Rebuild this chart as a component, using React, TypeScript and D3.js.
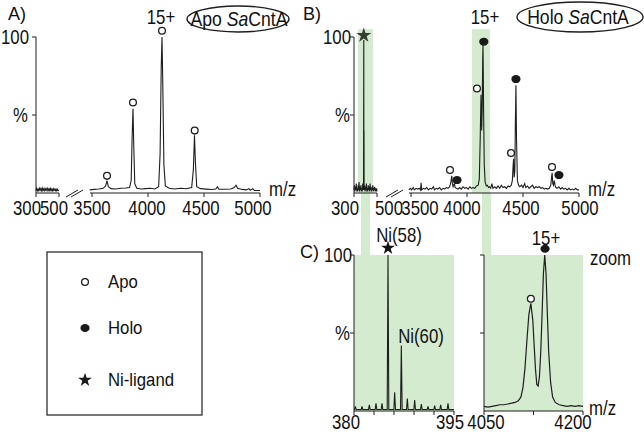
import React from 'react';
import * as d3 from 'd3';

const FONT = "'Liberation Sans', Arial, Helvetica, sans-serif";
const GREEN = '#d5ebcf';
const INK = '#1e1e1e';

// ---------- data (m/z, relative intensity %) ----------
const apoLow: [number, number][] = [
  [300, 1.5], [306, 3], [312, 1.5], [318, 2.5], [324, 1.5], [330, 3], [336, 1.8], [342, 2.8], [348, 1.5], [354, 3.2],
  [360, 1.6], [366, 2.6], [372, 1.5], [378, 3], [384, 1.8], [390, 2.7], [396, 1.5], [402, 3], [408, 1.7], [414, 2.6],
  [420, 1.5], [426, 2.9], [432, 1.6], [438, 2.5], [444, 1.5], [450, 2.8], [456, 1.6], [462, 2.4], [468, 1.5], [474, 2.6],
  [480, 1.5], [486, 2.4], [492, 1.5], [500, 1.8],
];
const apoHigh: [number, number][] = [
  [3480, 2], [3520, 2.3], [3560, 2.6], [3600, 3], [3622, 4.5], [3634, 8], [3646, 4], [3670, 2.8], [3710, 2.6], [3760, 3],
  [3800, 3.2], [3835, 3.5], [3850, 8], [3858, 35], [3866, 54], [3873, 30], [3882, 6], [3900, 3], [3940, 2.6], [3980, 2.8],
  [4020, 3], [4060, 2.6], [4095, 4], [4108, 25], [4118, 80], [4125, 100], [4132, 70], [4142, 18], [4155, 4.5], [4190, 3],
  [4240, 2.6], [4290, 3], [4340, 2.7], [4390, 3.5], [4405, 15], [4415, 37], [4423, 20], [4435, 4], [4470, 2.8], [4520, 2.5],
  [4570, 2.2], [4605, 2.5], [4620, 4], [4632, 2.4], [4680, 2.4], [4740, 2.6], [4770, 3.5], [4786, 5], [4800, 3], [4840, 2.3],
  [4880, 2], [4900, 2.8], [4915, 1.8], [4935, 2.8], [4950, 1.6], [5000, 1.6],
];
const holoLow: [number, number][] = [
  [300, 2], [304, 5], [308, 1], [312, 4], [316, 2], [320, 6], [324, 1], [328, 3], [332, 1], [336, 5], [340, 2], [344, 7],
  [348, 1], [352, 4], [356, 2], [360, 5], [364, 1], [368, 3], [372, 1], [376, 6], [380, 2], [383, 4], [385, 98], [386, 2],
  [387, 40], [388, 2], [392, 5], [396, 1], [400, 4], [404, 2], [408, 6], [412, 1], [416, 3], [420, 1], [424, 5], [428, 2],
  [432, 4], [436, 1], [440, 6], [444, 2], [448, 3], [452, 1], [456, 4], [460, 2], [464, 5], [468, 1], [472, 3], [476, 2],
  [480, 4], [484, 1], [488, 3], [492, 1], [496, 3], [500, 1],
];
const holoHigh: [number, number][] = [
  [3480, 2], [3495, 3], [3505, 2], [3520, 3.5], [3530, 2], [3545, 3], [3560, 2.5], [3575, 3], [3585, 2], [3590, 6.5],
  [3595, 2], [3610, 3], [3625, 2.5], [3640, 3.5], [3655, 2], [3670, 3], [3685, 2.5], [3700, 4], [3710, 2], [3725, 3],
  [3740, 2.5], [3755, 3.5], [3770, 2], [3785, 3], [3800, 2.5], [3815, 3.5], [3830, 3], [3845, 4], [3856, 7], [3864, 11],
  [3870, 6], [3876, 4], [3883, 5.5], [3888, 6], [3894, 3.5], [3905, 3], [3920, 2.5], [3935, 3.5], [3950, 2.5], [3965, 4],
  [3980, 3], [3995, 3.5], [4010, 2.5], [4025, 4], [4040, 3], [4055, 3.5], [4070, 3], [4085, 4.5], [4100, 5], [4110, 9],
  [4118, 35], [4125, 63], [4131, 40], [4136, 55], [4140, 85], [4143, 95], [4148, 55], [4154, 18], [4162, 7], [4172, 4.5],
  [4182, 5], [4192, 3.5], [4202, 4], [4212, 3], [4222, 6], [4232, 3], [4247, 4], [4262, 3], [4277, 4.5], [4292, 3],
  [4307, 5], [4322, 3.5], [4337, 4], [4352, 3], [4367, 4.5], [4382, 4], [4395, 5], [4405, 8], [4412, 18], [4416, 22],
  [4421, 10], [4427, 14], [4432, 45], [4437, 69], [4442, 35], [4450, 8], [4460, 5], [4472, 4], [4487, 5], [4500, 3.5],
  [4515, 6], [4525, 3.5], [4540, 4.5], [4555, 3], [4570, 4], [4585, 5], [4600, 3], [4615, 4], [4630, 3.5], [4645, 4],
  [4660, 3], [4675, 3.5], [4690, 2.5], [4705, 3], [4720, 2.5], [4735, 3], [4748, 5], [4755, 10], [4760, 13], [4766, 6],
  [4772, 5], [4779, 8], [4786, 5], [4793, 3.5], [4805, 3], [4820, 4], [4835, 2.5], [4850, 3.5], [4865, 2.5], [4880, 3],
  [4895, 2], [4910, 3], [4925, 2], [4940, 2.5], [4955, 2], [4970, 3], [4985, 2], [5000, 2],
];
const niPeaks: [number, number][] = [
  [380.2, 3], [381.2, 3], [382.3, 4], [383.3, 5], [384.2, 5], [385.1, 100], [386.1, 12], [387.1, 42], [388.0, 8],
  [389.1, 7], [390.1, 4.5], [391.1, 3], [392.1, 3.5], [393.0, 4], [394.1, 5],
];
const zoomCurve: [number, number][] = [
  [4050, 3], [4056, 2.5], [4062, 3], [4068, 3.5], [4074, 4], [4080, 4], [4086, 4.5], [4092, 5], [4097, 5.5], [4102, 6.5],
  [4106, 9], [4109, 15], [4112, 27], [4115, 45], [4118, 62], [4121, 69], [4124, 58], [4126, 42], [4128, 27], [4130, 17],
  [4132, 16], [4134, 22], [4136, 38], [4138, 62], [4140, 88], [4142, 100], [4144, 88], [4146, 62], [4148, 38], [4151, 18],
  [4154, 9], [4158, 5.5], [4164, 4], [4170, 3.5], [4176, 3], [4182, 3.5], [4188, 3], [4194, 3.5], [4200, 3],
];

// annotation markers: [m/z, % position of marker centre]
const markersA = [
  { kind: 'apo', mz: 3634, pct: 11 },
  { kind: 'apo', mz: 3866, pct: 58 },
  { kind: 'apo', mz: 4125, pct: 104 },
  { kind: 'apo', mz: 4417, pct: 40 },
];
const markersB = [
  { kind: 'apo', mz: 3848, pct: 14.7 },
  { kind: 'holo', mz: 3911, pct: 8.3 },
  { kind: 'apo', mz: 4089, pct: 67 },
  { kind: 'holo', mz: 4150, pct: 97 },
  { kind: 'apo', mz: 4393, pct: 25.6 },
  { kind: 'holo', mz: 4437, pct: 73 },
  { kind: 'apo', mz: 4759, pct: 16.7 },
  { kind: 'holo', mz: 4821, pct: 11.5 },
];
const markersC = [
  { kind: 'apo', mz: 4121, pct: 72 },
  { kind: 'holo', mz: 4142.5, pct: 104 },
];

const lowTicks = [300, 500];
const highTicks = [3500, 4000, 4500, 5000];
const niTicks = [380, 383, 386, 389, 392, 395];
const niLabels = [380, 395];
const zoomTicks = [4050, 4125, 4200];
const zoomLabels = [4050, 4200];
const yTicks = [100, 50];
const bandLowB: [number, number] = [335, 465];
const bandHighB: [number, number] = [4045, 4205];
const connLow: [number, number] = [361, 370];
const connHigh: [number, number] = [482, 491];

const legendItems = [
  { kind: 'apo', label: 'Apo' },
  { kind: 'holo', label: 'Holo' },
  { kind: 'star', label: 'Ni-ligand' },
];

// hand-placed label nudges (px) as in the original figure
const nudgeA: Record<number, number> = { 300: -9, 500: -5, 3500: 0, 4000: -1, 4500: -3, 5000: -7 };
const nudgeB: Record<number, number> = { 300: -9, 500: 12, 3500: 9, 4000: -5, 4500: -2, 5000: 1 };
const nudgeNi: Record<number, number> = { 380: -8, 395: -4 };
const nudgeZ: Record<number, number> = { 4050: 2, 4200: -10 };

// ---------- helpers ----------
const starPath = (size: number) => d3.symbol().type(d3.symbolStar).size(size)()!;

function T({ x, y, children, size = 20, sx = 0.84, anchor = 'start', mid = false }: any) {
  return (
    <text transform={`translate(${x},${y}) scale(${sx},1)`} fontSize={size} textAnchor={anchor}
      dy={mid ? '0.36em' : undefined}>
      {children}
    </text>
  );
}

function Marker({ kind, x, y, fill }: { kind: string; x: number; y: number; fill?: string }) {
  if (kind === 'apo') return <circle cx={x} cy={y} r={3.4} fill="white" stroke={INK} strokeWidth={1.3} />;
  if (kind === 'holo') return <ellipse cx={x} cy={y} rx={4.6} ry={4} fill={fill || '#1a1a1a'} />;
  return <path d={starPath(60)} transform={`translate(${x},${y})`} fill={fill || '#1a1a1a'} />;
}

type Seg = { x0: number; x1: number; d0: number; d1: number };

function BrokenPanel({
  y0, y1, low, high, lowData, highData, markers, breakX, yLabelEnd, nudge,
}: {
  y0: number; y1: number; low: Seg; high: Seg; lowData: [number, number][]; highData: [number, number][];
  markers: { kind: string; mz: number; pct: number }[]; breakX: number; yLabelEnd: number; nudge: Record<number, number>;
}) {
  const sy = d3.scaleLinear().domain([0, 100]).range([y0, y1]);
  const sl = d3.scaleLinear().domain([low.d0, low.d1]).range([low.x0, low.x1]);
  const sh = d3.scaleLinear().domain([high.d0, high.d1]).range([high.x0, high.x1]);
  const lineL = d3.line<[number, number]>().x((d) => sl(d[0])).y((d) => sy(d[1]));
  const lineH = d3.line<[number, number]>().x((d) => sh(d[0])).y((d) => sy(d[1]));
  return (
    <g>
      <line x1={low.x0} x2={low.x0} y1={y1} y2={y0} stroke={INK} strokeWidth={1} />
      {yTicks.map((t) => (
        <line key={t} x1={low.x0 - 4} x2={low.x0} y1={sy(t)} y2={sy(t)} stroke={INK} />
      ))}
      <T x={yLabelEnd} y={sy(100)} anchor="end" mid>100</T>
      <T x={yLabelEnd - 1} y={sy(50)} anchor="end" mid>%</T>
      <line x1={low.x0} x2={low.x1} y1={y0} y2={y0} stroke={INK} />
      <line x1={high.x0 - 2} x2={high.x1} y1={y0} y2={y0} stroke={INK} />
      {lowTicks.map((t) => (
        <line key={t} x1={sl(t)} x2={sl(t)} y1={y0} y2={y0 + 4} stroke={INK} />
      ))}
      {highTicks.map((t) => (
        <line key={t} x1={sh(t)} x2={sh(t)} y1={y0} y2={y0 + 4} stroke={INK} />
      ))}
      {lowTicks.map((t) => (
        <T key={t} x={sl(t) + (nudge[t] || 0)} y={y0 + 22} anchor="middle">{t}</T>
      ))}
      {highTicks.map((t) => (
        <T key={t} x={sh(t) + (nudge[t] || 0)} y={y0 + 22} anchor="middle">{t}</T>
      ))}
      <line x1={breakX} y1={y0 + 4} x2={breakX + 12} y2={y0 - 3} stroke={INK} strokeWidth={1} />
      <line x1={breakX + 5} y1={y0 + 4} x2={breakX + 17} y2={y0 - 3} stroke={INK} strokeWidth={1} />
      <path d={lineL(lowData)!} fill="none" stroke={INK} strokeWidth={1.1} />
      <path d={lineH(highData)!} fill="none" stroke={INK} strokeWidth={1.1} />
      <T x={high.x1 + 9} y={y0 + 3}>m/z</T>
      {markers.map((m, i) => (
        <Marker key={i} kind={m.kind} x={m.mz < 1000 ? sl(m.mz) : sh(m.mz)} y={sy(m.pct)} />
      ))}
    </g>
  );
}

export default function App() {
  const yA0 = 193, yA1 = 37;
  const lowA: Seg = { x0: 36, x1: 59, d0: 300, d1: 500 };
  const highA: Seg = { x0: 92, x1: 260, d0: 3500, d1: 5000 };
  const lowB: Seg = { x0: 354, x1: 377, d0: 300, d1: 500 };
  const highB: Seg = { x0: 411, x1: 579, d0: 3500, d1: 5000 };
  const slB = d3.scaleLinear().domain([lowB.d0, lowB.d1]).range([lowB.x0, lowB.x1]);
  const shB = d3.scaleLinear().domain([highB.d0, highB.d1]).range([highB.x0, highB.x1]);
  const syB = d3.scaleLinear().domain([0, 100]).range([yA0, yA1]);

  // Panel C
  const yC0 = 411, yC1 = 255;
  const syC = d3.scaleLinear().domain([0, 100]).range([yC0, yC1]);
  const sxNi = d3.scaleLinear().domain([380, 395]).range([354, 454]);
  const sxZ = d3.scaleLinear().domain([4050, 4200]).range([484, 583]);
  const niPts: [number, number][] = [[380, 1]];
  niPeaks.forEach(([m, h]) => {
    niPts.push([m - 0.12, 1], [m, h], [m + 0.12, 1]);
  });
  niPts.push([395, 1]);
  const lineNi = d3.line<[number, number]>().x((d) => sxNi(d[0])).y((d) => syC(d[1]));
  const lineZ = d3.line<[number, number]>().x((d) => sxZ(d[0])).y((d) => syC(d[1]));
  const bandTop = syB(105);

  return (
    <svg width={644} height={432} style={{ position: 'absolute', left: 0, top: 0, background: 'white' }}
      fontFamily={FONT} fill="#111">
      {/* green highlight bands */}
      <rect x={slB(bandLowB[0])} y={bandTop} width={slB(bandLowB[1]) - slB(bandLowB[0])} height={yA0 - bandTop} fill={GREEN} />
      <rect x={shB(bandHighB[0])} y={bandTop} width={shB(bandHighB[1]) - shB(bandHighB[0])} height={yA0 - bandTop} fill={GREEN} />
      <rect x={connLow[0]} y={yA0} width={connLow[1] - connLow[0]} height={yC1 - yA0} fill={GREEN} />
      <rect x={connHigh[0]} y={yA0} width={connHigh[1] - connHigh[0]} height={yC1 - yA0} fill={GREEN} />
      <rect x={sxNi(380)} y={yC1} width={sxNi(395) - sxNi(380)} height={yC0 - yC1} fill={GREEN} />
      <rect x={sxZ(4050)} y={yC1} width={sxZ(4200) - sxZ(4050)} height={yC0 - yC1} fill={GREEN} />

      {/* Panel titles */}
      <T x={8} y={20} size={19} sx={0.95}>A)</T>
      <T x={303} y={20} size={19} sx={0.95}>B)</T>
      <T x={300} y={258} size={19} sx={0.95}>C)</T>

      {/* Panel A */}
      <BrokenPanel y0={yA0} y1={yA1} low={lowA} high={highA} lowData={apoLow} highData={apoHigh}
        markers={markersA} breakX={66} yLabelEnd={29} nudge={nudgeA} />
      <T x={161} y={24} anchor="middle">15+</T>
      <ellipse cx={238} cy={19} rx={51} ry={13} fill="none" stroke={INK} strokeWidth={1.4} />
      <T x={239} y={26} anchor="middle" sx={0.88}>Apo <tspan fontStyle="italic">Sa</tspan>CntA</T>

      {/* Panel B */}
      <BrokenPanel y0={yA0} y1={yA1} low={lowB} high={highB} lowData={holoLow} highData={holoHigh}
        markers={markersB} breakX={386} yLabelEnd={351} nudge={nudgeB} />
      <path d={starPath(70)} transform={`translate(${slB(385)},${syB(101)})`} fill="#333d33" />
      <T x={485} y={24} anchor="middle">15+</T>
      <ellipse cx={580} cy={17} rx={63} ry={15} fill="none" stroke={INK} strokeWidth={1.4} />
      <T x={578} y={24} anchor="middle" sx={0.88}>Holo <tspan fontStyle="italic">Sa</tspan>CntA</T>

      {/* Panel C left */}
      <line x1={354} x2={354} y1={yC1} y2={yC0} stroke={INK} />
      {yTicks.map((t) => (
        <line key={t} x1={350} x2={354} y1={syC(t)} y2={syC(t)} stroke={INK} />
      ))}
      <T x={352} y={syC(100)} anchor="end" mid>100</T>
      <T x={350} y={syC(50)} anchor="end" mid>%</T>
      <line x1={354} x2={454} y1={yC0} y2={yC0} stroke={INK} />
      {niTicks.map((t) => (
        <line key={t} x1={sxNi(t)} x2={sxNi(t)} y1={yC0} y2={yC0 + 4} stroke={INK} />
      ))}
      {niLabels.map((t) => (
        <T key={t} x={sxNi(t) + (nudgeNi[t] || 0)} y={yC0 + 18} anchor="middle">{t}</T>
      ))}
      <path d={lineNi(niPts)!} fill="none" stroke={INK} strokeWidth={1.1} />
      <path d={starPath(60)} transform={`translate(${sxNi(385.1)},${syC(104.5)})`} fill="#111" />
      <T x={399} y={242} anchor="middle">Ni(58)</T>
      <T x={421} y={343} anchor="middle">Ni(60)</T>

      {/* Panel C right */}
      <line x1={484} x2={484} y1={yC1} y2={yC0} stroke={INK} />
      {yTicks.map((t) => (
        <line key={t} x1={480} x2={484} y1={syC(t)} y2={syC(t)} stroke={INK} />
      ))}
      <line x1={484} x2={583} y1={yC0} y2={yC0} stroke={INK} />
      {zoomTicks.map((t) => (
        <line key={t} x1={sxZ(t)} x2={sxZ(t)} y1={yC0} y2={yC0 + 4} stroke={INK} />
      ))}
      {zoomLabels.map((t) => (
        <T key={t} x={sxZ(t) + (nudgeZ[t] || 0)} y={yC0 + 18} anchor="middle">{t}</T>
      ))}
      <path d={lineZ(zoomCurve)!} fill="none" stroke={INK} strokeWidth={1.2} />
      {markersC.map((m, i) => (
        <Marker key={i} kind={m.kind} x={sxZ(m.mz)} y={syC(m.pct)} />
      ))}
      <T x={546} y={245} anchor="middle">15+</T>
      <T x={590} y={265}>zoom</T>
      <T x={589} y={415}>m/z</T>

      {/* Legend */}
      <rect x={47} y={252} width={155} height={163} fill="none" stroke={INK} strokeWidth={1.2} />
      {legendItems.map((it, i) => {
        const y = [282, 328, 380][i];
        return (
          <g key={it.label}>
            <Marker kind={it.kind} x={85} y={y} />
            <T x={108} y={y} size={18} sx={0.93} mid>{it.label}</T>
          </g>
        );
      })}
    </svg>
  );
}
